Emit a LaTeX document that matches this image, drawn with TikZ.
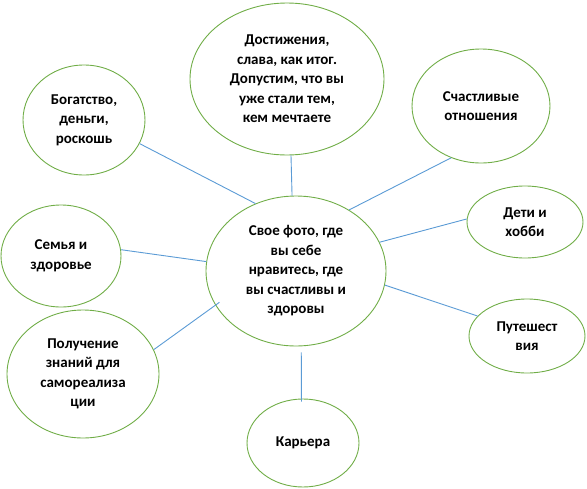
\documentclass[tikz,border=0pt]{standalone}
\usepackage{fontspec}
\setmainfont{Carlito}
\usetikzlibrary{shapes.geometric}
\definecolor{ringgreen}{HTML}{70AD47}
\definecolor{linkblue}{HTML}{5B9BD5}
\begin{document}
\begin{tikzpicture}[x=1pt,y=-1pt,
  bubble/.style={shape=ellipse,draw=ringgreen,line width=0.9pt,inner sep=0pt,
    align=center,font=\fontsize{15}{19.5}\selectfont\bfseries},
  link/.style={draw=linkblue,line width=0.9pt}]
\useasboundingbox (0,0) rectangle (587,488);
\node[bubble,minimum width=194pt,minimum height=152pt] (top) at (287,79)
  {Достижения,\\слава, как итог.\\Допустим, что вы\\уже стали тем,\\кем мечтаете};
\node[bubble,minimum width=180pt,minimum height=150pt] (ctr) at (296,271)
  {Свое фото, где\\вы себе\\нравитесь, где\\вы счастливы и\\здоровы};
\node[bubble,minimum width=122pt,minimum height=110pt] (rich) at (84,120)
  {Богатство,\\деньги,\\роскошь};
\node[bubble,minimum width=138pt,minimum height=114pt] (love) at (481,106)
  {Счастливые\\отношения};
\node[bubble,minimum width=120pt,minimum height=102pt] (fam) at (61,256)
  {Семья и\\здоровье};
\node[bubble,minimum width=152pt,minimum height=128pt] (know) at (83,374)
  {Получение\\знаний для\\самореализа\\ции};
\node[bubble,minimum width=116pt,minimum height=72pt] (kids) at (525,222)
  {Дети и\\хобби};
\node[bubble,minimum width=116pt,minimum height=74pt] (trav) at (527,336)
  {Путешест\\вия};
\node[bubble,minimum width=112pt,minimum height=88pt] (car) at (303,443)
  {Карьера};
\draw[link] (top.-87) -- (ctr.93.8);
\draw[link] (rich.-23) -- (ctr.121.9);
\draw[link] (love.240.4) -- (ctr.49);
\draw[link] (fam.6.7) -- (ctr.174.9);
\draw[link,shorten >=-5pt] (know.19.4) -- (ctr.203.7);
\draw[link] (kids.177) -- (ctr.19);
\draw[link] (trav.158.6) -- (ctr.-9);
\draw[link,shorten <=6pt,shorten >=-3pt] (ctr.-86.5) -- (car.92.8);
\end{tikzpicture}
\end{document}
